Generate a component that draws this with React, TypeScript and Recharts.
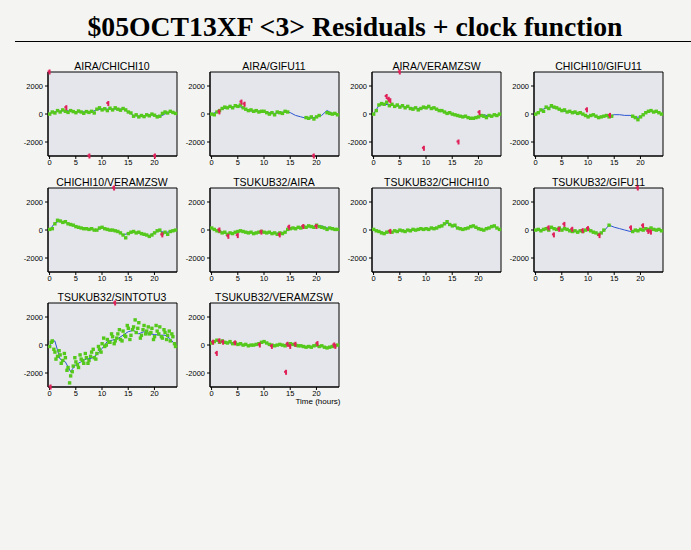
import React from "react";
import {
  ComposedChart,
  Line,
  Scatter,
  XAxis,
  YAxis,
  CartesianGrid,
  ReferenceArea,
} from "recharts";

// sample times (hours) for the residual points, and for the clock function
const HOURS = [
  0, 0.5, 1, 1.5, 2, 2.5, 3, 3.5, 4, 4.5, 5, 5.5, 6, 6.5, 7, 7.5, 8, 8.5, 9,
  9.5, 10, 10.5, 11, 11.5, 12, 12.5, 13, 13.5, 14, 14.5, 15, 15.5, 16, 16.5,
  17, 17.5, 18, 18.5, 19, 19.5, 20, 20.5, 21, 21.5, 22, 22.5, 23, 23.5, 24,
];
const CLK_HOURS = [
  0, 1, 2, 3, 4, 5, 6, 7, 8, 9, 10, 11, 12, 13, 14, 15, 16, 17, 18, 19, 20,
  21, 22, 23, 24,
];

const X_TICKS = [0, 5, 10, 15, 20];
const Y_TICKS = [-2000, 0, 2000];
const X_DOMAIN = [-0.3, 24.3];
const Y_DOMAIN = [-3000, 3000];

const BASELINES = [
  "AIRA/CHICHI10",
  "AIRA/GIFU11",
  "AIRA/VERAMZSW",
  "CHICHI10/GIFU11",
  "CHICHI10/VERAMZSW",
  "TSUKUB32/AIRA",
  "TSUKUB32/CHICHI10",
  "TSUKUB32/GIFU11",
  "TSUKUB32/SINTOTU3",
  "TSUKUB32/VERAMZSW",
];

// residuals (green), one per HOURS entry, null = no data
const RES_AIRA_CHICHI = [
  0, 150, 80, 250, 150, 300, 200, 120, 250, 180, 100, 220, 150, 60, 180, 120,
  200, 80, 350, 450, 300, 380, 250, 420, 300, 450, 350, 280, 400, 300, 150, 80,
  -150, -50, -200, -100, -180, -50, -120, 0, -80, -200, -150, 50, 150, 80, 200,
  120, 50,
];
const RES_AIRA_GIFU = [
  0, -50, 150, 250, 400, 500, 450, 550, 450, 600, 550, 650, 450, 350, 250, 300,
  200, 250, 150, 200, 200, 100, 0, 100, -50, 150, 100, 50, 200, 150, null,
  null, null, null, null, null, -250, -300, -200, -350, -200, -100, null, null,
  100, 50, 0, 50, -50,
];
const RES_AIRA_VERA = [
  0, 250, 650, 750, 700, 850, 600, 700, 550, 650, 500, 600, 450, 550, 400, 350,
  450, 300, 400, 500, 450, 550, 400, 450, 350, 250, 250, 150, 50, 100, 0, -50,
  -100, -150, -200, -150, -250, -300, -300, -250, -200, -100, -150, -250, -100,
  -150, -50, -100, 0,
];
const RES_CHICHI_GIFU = [
  0, 100, 300, 200, 500, 400, 600, 500, 450, 350, 250, 300, 150, 200, 100, 150,
  50, 100, 0, -100, -200, -100, -50, -150, -250, -200, -150, -100, -200, -150,
  null, null, null, null, null, null, null, -150, -250, -400, -200, -50, 100,
  200, 250, 150, 200, 100, 0,
];
const RES_CHICHI_VERA = [
  50, 100, 450, 700, 650, 550, 600, 450, 400, 350, 250, 200, 150, 100, 100, 50,
  100, 0, 0, 150, 200, 100, 50, 0, 0, -50, -100, -200, -350, -550, -250, -150,
  -100, -200, -150, -250, -300, -350, -450, -350, -200, -50, 0, -250, -150,
  -300, -100, -50, 0,
];
const RES_TSUKUB_AIRA = [
  150, 50, -50, -100, -200, -150, -300, -200, -250, -150, -100, -50, -100, -150,
  -200, -150, -250, -200, -150, -100, -150, -200, -150, -250, -200, -300, -200,
  -250, -150, 50, 100, 150, 100, 200, 150, 250, 200, 300, 250, 200, 350, 250,
  200, 150, 50, 150, 100, 50, 50,
];
const RES_TSUKUB_CHICHI = [
  50, -50, -100, -200, -250, -150, -100, -150, -50, -100, 0, -50, -100, 0, -50,
  50, 0, 50, 100, 50, 100, 50, 150, 100, 150, 250, 300, 450, 600, 400, 300, 350,
  150, 100, 50, 100, 150, 250, 300, 200, 100, 50, 0, 100, 150, 250, 300, 150,
  50,
];
const RES_TSUKUB_GIFU = [
  0, 50, -50, 50, 100, 0, 200, 100, 50, 150, 0, 100, 50, -50, -100, -50, -150,
  -50, -100, 0, 50, -50, -150, -200, -300, -200, 0, null, 350, null, null, null,
  null, null, null, null, null, -100, 0, -50, 50, 0, 100, 50, 150, 50, 0, 50,
  -50,
];
const RES_TSUKUB_SINTOTU = [
  -100, 300, -500, -800, -700, -1100, -900, -1600, -2200, -1500, -1200, -1600,
  -1000, -1300, -900, -1100, -500, -900, -600, -300, 100, -100, 400, 200, 600,
  300, 800, 400, 1000, 600, 1200, 700, 1300, 900, 1600, 700, 1400, 1000, 800,
  1200, 600, 1000, 1300, 500, 900, 700, 300, 600, -100,
];
const RES_TSUKUB_VERA = [
  150, 250, 350, 200, 300, 200, 150, 250, 100, 150, 50, 100, 0, 50, -50, 0, 0,
  50, 100, 200, 250, 150, 50, 0, -50, 0, 50, 0, -50, 50, 100, 50, 0, -50, -50,
  -100, -150, -100, -150, -50, 0, -100, -50, -150, -200, -150, -100, -50, 0,
];

// extra scattered residuals for the noisy SINTOTU3 baseline: [hour, value]
const RES_SINTOTU_EXTRA = [
  [0.3, 200], [0.8, -300], [1.2, -1000], [1.8, -400], [2.2, -1300],
  [2.8, -600], [3.3, -1800], [3.8, -2700], [4.3, -1900], [4.8, -900],
  [5.3, -1400], [5.8, -700], [6.3, -1100], [6.8, -600], [7.3, -1300],
  [7.8, -800], [8.3, -300], [8.8, -1000], [9.3, -100], [9.8, -500],
  [10.3, 500], [10.8, 0], [11.3, 200], [11.8, 800], [12.3, 100], [12.8, 500],
  [13.3, 1100], [13.8, 300], [14.3, 700], [14.8, 1400], [15.3, 400],
  [15.8, 1100], [16.3, 1800], [16.8, 1200], [17.3, 500], [17.8, 1100],
  [18.3, 800], [18.8, 1300], [19.3, 900], [19.8, 400], [20.3, 1400],
  [20.8, 800], [21.3, 600], [21.8, 1100], [22.3, 400], [22.8, 1000],
  [23.3, 800], [23.8, 100],
];

// clock function (blue), one per CLK_HOURS entry
const CLK_AIRA_CHICHI = [50, 150, 200, 250, 200, 150, 150, 150, 150, 300, 350, 350, 350, 350, 350, 150, -100, -150, -150, -80, -50, -200, 0, 150, 50];
const CLK_AIRA_GIFU = [0, 150, 350, 450, 500, 550, 450, 250, 200, 200, 200, 100, 50, 100, 150, 100, -100, -200, -300, -300, -200, -100, 250, 50, 0];
const CLK_AIRA_VERA = [0, 600, 700, 650, 600, 550, 500, 450, 400, 400, 450, 450, 350, 250, 100, 0, -100, -150, -250, -300, -200, -50, -150, -100, 0];
const CLK_CHICHI_GIFU = [0, 250, 450, 500, 400, 250, 150, 100, 50, 0, -150, -100, -200, -150, -150, -50, -50, -100, -100, -250, -200, 100, 200, 150, 0];
const CLK_CHICHI_VERA = [0, 500, 650, 550, 400, 250, 150, 100, 50, 0, 150, 50, 0, -100, -350, -250, -150, -200, -300, -400, -200, -50, -200, -100, 0];
const CLK_TSUKUB_AIRA = [100, -50, -150, -250, -200, -100, -100, -150, -200, -150, -150, -200, -250, -200, -150, 100, 150, 200, 200, 250, 250, 300, 150, 100, 50];
const CLK_TSUKUB_CHICHI = [0, -100, -200, -150, -100, -50, -50, 0, 0, 50, 100, 100, 150, 300, 500, 350, 150, 50, 150, 250, 150, 0, 150, 250, 50];
const CLK_TSUKUB_GIFU = [0, 0, 50, 150, 100, 50, 50, -50, -100, -50, 0, -100, -300, -100, 350, 200, 100, 0, -100, -50, 0, 50, 100, 50, 0];
const CLK_TSUKUB_SINTOTU = [0, 300, -1000, -1200, -1900, -1400, -1200, -1000, -950, -700, -250, 250, 350, 450, 700, 950, 1050, 800, 950, 800, 750, 700, 700, 450, 0];
const CLK_TSUKUB_VERA = [150, 300, 250, 200, 100, 50, 0, -50, 0, 100, 200, 50, -50, 50, 0, 100, 0, -50, -150, -100, -50, -50, -200, -100, 0];

// rejected points (red): [hour, value]
const REJ_AIRA_CHICHI = [[0, 3000], [3.2, 450], [7.6, -3000], [11.2, 750], [20.1, -3000]];
const REJ_AIRA_GIFU = [[1.5, 150], [5.7, 850], [6.3, 700], [19.5, -3000]];
const REJ_AIRA_VERA = [[2.5, 1250], [2.9, 1050], [3.2, 950], [5, 3000], [9.6, -2450], [16.2, -2000], [20.2, 100]];
const REJ_CHICHI_GIFU = [[9.8, 300], [14.2, -100]];
const REJ_CHICHI_VERA = [[12.3, 3000], [21.5, -350]];
const REJ_TSUKUB_AIRA = [[1.5, 0], [3.2, -450], [5, -400], [9.5, -150], [13, -350], [14.8, 200], [17.5, 250], [20, 250]];
const REJ_TSUKUB_CHICHI = [[3.2, -100]];
const REJ_TSUKUB_GIFU = [[2.5, 150], [3.5, -350], [4.5, 50], [5.5, 400], [7, 50], [9, -50], [10, 100], [12.2, -400], [18.2, 150], [19.5, 3000], [20.5, 300], [21.5, -100], [22, -150]];
const REJ_TSUKUB_SINTOTU = [[0.2, -3000], [12.5, 3000]];
const REJ_TSUKUB_VERA = [[0.3, 200], [1, -600], [1.5, 300], [2.2, 200], [4.5, 150], [9.2, 0], [11.5, -100], [14.2, -1950], [14.5, 50], [15, -100], [16, 50], [20.2, 100], [23.4, 0], [23.6, -100]];

const RESIDUALS = [
  RES_AIRA_CHICHI, RES_AIRA_GIFU, RES_AIRA_VERA, RES_CHICHI_GIFU,
  RES_CHICHI_VERA, RES_TSUKUB_AIRA, RES_TSUKUB_CHICHI, RES_TSUKUB_GIFU,
  RES_TSUKUB_SINTOTU, RES_TSUKUB_VERA,
];
const CLOCKS = [
  CLK_AIRA_CHICHI, CLK_AIRA_GIFU, CLK_AIRA_VERA, CLK_CHICHI_GIFU,
  CLK_CHICHI_VERA, CLK_TSUKUB_AIRA, CLK_TSUKUB_CHICHI, CLK_TSUKUB_GIFU,
  CLK_TSUKUB_SINTOTU, CLK_TSUKUB_VERA,
];
const REJECTED = [
  REJ_AIRA_CHICHI, REJ_AIRA_GIFU, REJ_AIRA_VERA, REJ_CHICHI_GIFU,
  REJ_CHICHI_VERA, REJ_TSUKUB_AIRA, REJ_TSUKUB_CHICHI, REJ_TSUKUB_GIFU,
  REJ_TSUKUB_SINTOTU, REJ_TSUKUB_VERA,
];

const COL_X = [47.5, 209.5, 372, 534];
const ROW_Y = [72, 188, 303];
const PLOT_W = 129;
const PLOT_H = 84;
const PAD_L = 45;
const PAD_T = 16;
const PAD_R = 6;
const PAD_B = 16;

const tickStyle = { fontSize: 7.5, fill: "#000", fontFamily: "Liberation Sans, Arial, sans-serif" };

const GreenDot = (p: any) => (
  <rect x={p.cx - 1.6} y={p.cy - 1.6} width={3.4} height={3.4} fill="#55c81c" />
);
const RedDot = (p: any) => (
  <g fill="#e0225a">
    <rect x={p.cx - 1} y={p.cy - 2.5} width={2} height={5} />
    <rect x={p.cx - 2} y={p.cy - 1.5} width={2} height={2} />
  </g>
);

function Panel({ idx }: { idx: number }) {
  const res = RESIDUALS[idx];
  const green = HOURS.map((h, i) => ({ h, v: res[i] })).filter((d) => d.v !== null);
  if (idx === 8) {
    RES_SINTOTU_EXTRA.forEach(([h, v]) => green.push({ h, v }));
  }
  const blue = CLK_HOURS.map((h, i) => ({ h, v: CLOCKS[idx][i] }));
  const red = REJECTED[idx].map(([h, v]) => ({ h, v }));
  const left = COL_X[idx % 4];
  const top = ROW_Y[Math.floor(idx / 4)];
  return (
    <div style={{ position: "absolute", left: left - PAD_L, top: top - PAD_T }}>
      <ComposedChart
        width={PAD_L + PLOT_W + PAD_R}
        height={PAD_T + PLOT_H + PAD_B}
        margin={{ top: PAD_T, right: PAD_R, bottom: 0, left: 0 }}
      >
        <CartesianGrid fill="#e5e6eb" horizontal={false} vertical={false} />
        <XAxis
          type="number"
          dataKey="h"
          domain={X_DOMAIN}
          ticks={X_TICKS}
          height={PAD_B}
          tick={tickStyle}
          tickSize={3}
          tickMargin={1}
          stroke="#000"
        />
        <YAxis
          type="number"
          dataKey="v"
          domain={Y_DOMAIN}
          ticks={Y_TICKS}
          width={PAD_L}
          tick={tickStyle}
          tickSize={3}
          tickMargin={2}
          stroke="#000"
        />
        <Line
          data={blue}
          dataKey="v"
          type="linear"
          stroke="#2b55d4"
          strokeWidth={1}
          dot={false}
          isAnimationActive={false}
        />
        <Scatter data={green} dataKey="v" shape={GreenDot} isAnimationActive={false} />
        <Scatter data={red} dataKey="v" shape={RedDot} isAnimationActive={false} />
        <ReferenceArea
          x1={X_DOMAIN[0]}
          x2={X_DOMAIN[1]}
          y1={Y_DOMAIN[0]}
          y2={Y_DOMAIN[1]}
          fill="none"
          fillOpacity={0}
          stroke="#000"
          strokeWidth={1}
          ifOverflow="visible"
        />
      </ComposedChart>
    </div>
  );
}

export default function App() {
  return (
    <div
      style={{
        position: "absolute",
        left: 0,
        top: 0,
        width: 691,
        height: 550,
        background: "#f4f5f3",
        overflow: "hidden",
      }}
    >
      <svg width={691} height={550} style={{ position: "absolute", left: 0, top: 0 }}>
        <text
          x={355}
          y={36}
          textAnchor="middle"
          fontFamily="Liberation Serif, Times New Roman, serif"
          fontWeight="bold"
          fontSize={27}
          textLength={535}
          lengthAdjust="spacingAndGlyphs"
        >
          $05OCT13XF &lt;3&gt; Residuals + clock function
        </text>
        <line x1={15} x2={691} y1={41.5} y2={41.5} stroke="#000" strokeWidth={1} />
        {BASELINES.map((name, i) => (
          <text
            key={name}
            x={COL_X[i % 4] + PLOT_W / 2}
            y={ROW_Y[Math.floor(i / 4)] - 2}
            textAnchor="middle"
            fontFamily="Liberation Sans, Arial, sans-serif"
            fontSize={10.5}
          >
            {name}
          </text>
        ))}
        <text
          x={318}
          y={404}
          textAnchor="middle"
          fontFamily="Liberation Sans, Arial, sans-serif"
          fontSize={8}
        >
          Time (hours)
        </text>
      </svg>
      {BASELINES.map((name, i) => (
        <Panel key={name} idx={i} />
      ))}
    </div>
  );
}
